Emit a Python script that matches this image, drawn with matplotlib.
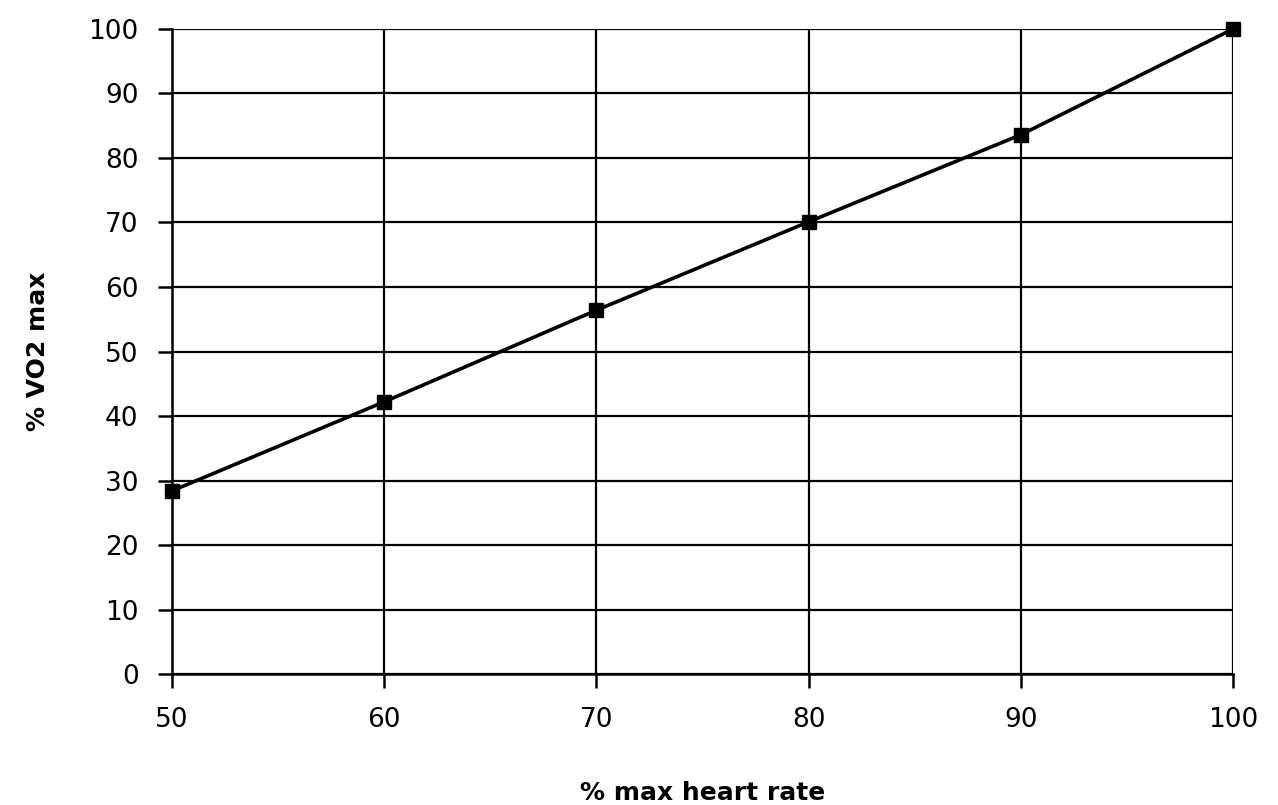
import matplotlib
matplotlib.use('Agg')
import matplotlib.pyplot as plt

heart_rate = [50, 60, 70, 80, 90, 100]
vo2 = [28.4, 42.2, 56.4, 70.1, 83.6, 100]
x_ticks = [50, 60, 70, 80, 90, 100]
y_ticks = [0, 10, 20, 30, 40, 50, 60, 70, 80, 90, 100]

fig = plt.figure(figsize=(12.78, 8.05), dpi=100)
ax = fig.add_axes([0.1346, 0.1627, 0.8302, 0.8013])

ax.plot(heart_rate, vo2, color='black', linewidth=2.6, marker='s',
        markersize=9.5, markerfacecolor='black', markeredgecolor='black',
        zorder=3, clip_on=False)

ax.set_xlim(50, 100)
ax.set_ylim(0, 100)
ax.set_xticks(x_ticks)
ax.set_yticks(y_ticks)
ax.grid(True, color='black', linewidth=1.6)
ax.set_axisbelow(True)

for side in ['top', 'right']:
    ax.spines[side].set_visible(False)
for side in ['left', 'bottom']:
    ax.spines[side].set_linewidth(1.8)

ax.tick_params(axis='both', direction='out', length=10, width=1.8, labelsize=19)
ax.tick_params(axis='y', pad=14)
ax.tick_params(axis='x', pad=14)
ax.set_xlabel('% max heart rate', fontsize=18, fontweight='bold', labelpad=34)
ax.set_ylabel('% VO2 max', fontsize=18, fontweight='bold', labelpad=28)

fig.savefig('out.png', dpi=100)
